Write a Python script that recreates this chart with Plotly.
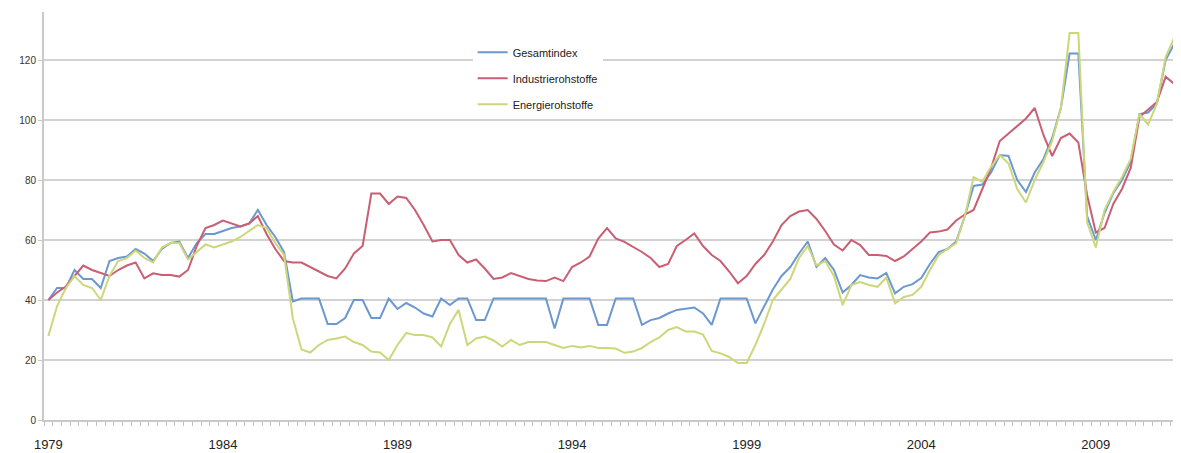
import plotly.graph_objects as go

# Quarterly data, 1979 Q1 onward
start_year = 1979
gesamtindex = [
    40, 44, 44, 50, 47, 47, 44, 53, 54, 54.5, 57, 55.5, 53, 57, 59, 59.5, 54, 59, 62, 62,
    63, 64, 64.5, 65.5, 70, 65, 61, 56, 39.5, 40.5, 40.5, 40.5, 32, 32, 34, 40, 40, 34, 34, 40.5,
    37, 39, 37.5, 35.5, 34.5, 40.5, 38.3, 40.5, 40.5, 33.3, 33.3, 40.5, 40.5, 40.5, 40.5, 40.5, 40.5, 40.5, 30.5, 40.5,
    40.5, 40.5, 40.5, 31.7, 31.7, 40.5, 40.5, 40.5, 31.7, 33.3, 34, 35.5, 36.7, 37.2, 37.5, 35.5, 31.7, 40.5, 40.5, 40.5,
    40.5, 32.2, 37.8, 43.5, 48, 51, 55.5, 59.5, 51, 54, 50, 42.5, 45, 48.3, 47.5, 47.2, 49, 42.2, 44.4, 45.3,
    47.3, 52, 56, 57, 59.5, 68, 78, 78.5, 82.5, 88.3, 88, 80, 76, 82.5, 87, 94, 104, 122.2, 122.2, 68,
    60, 69, 75.6, 80, 86, 102, 102.5, 105.5, 120, 125.5, 120.5,
]
industrierohstoffe = [
    40, 42.5, 44.5, 48, 51.5, 50, 49, 48, 50, 51.5, 52.5, 47.2, 48.9, 48.3, 48.3, 47.8, 50, 58, 64, 65,
    66.5, 65.5, 64.5, 65.5, 68, 62, 57, 53, 52.5, 52.5, 51, 49.5, 48, 47.2, 50.5, 55.5, 58, 75.5, 75.5, 72,
    74.5, 74, 70, 65, 59.5, 60, 60, 55, 52.5, 53.5, 50.5, 47, 47.5, 49, 48, 47, 46.5, 46.3, 47.5, 46.3,
    51, 52.5, 54.5, 60.5, 64, 60.5, 59.4, 57.8, 56, 54, 51, 52, 58, 60, 62.2, 58, 55, 53, 49.5, 45.6,
    48, 52, 55, 59.5, 65, 68, 69.5, 70, 67, 63, 58.5, 56.5, 60, 58.3, 55, 55, 54.7, 53, 54.5, 57,
    59.5, 62.5, 62.8, 63.5, 66.5, 68.5, 70, 77, 84, 93, 95.5, 98, 100.5, 104, 95, 88, 94, 95.5, 92.5, 75,
    62.5, 64, 72, 77, 84, 101, 103.5, 106, 114.4, 112, 109,
]
energierohstoffe = [
    28, 38, 44, 48, 45, 44, 40, 48, 53, 54, 56.5, 54, 52.5, 57.5, 59, 59, 53.5, 56, 58.5, 57.5,
    58.5, 59.5, 61, 63, 65, 64, 59, 55, 34, 23.5, 22.5, 25, 26.7, 27.2, 27.8, 26, 25, 22.8, 22.5, 20,
    25, 29, 28.3, 28.3, 27.5, 24.5, 32, 36.7, 25, 27.2, 27.8, 26.5, 24.5, 26.7, 25, 26, 26, 26, 25, 24,
    24.7, 24.2, 24.7, 24, 24, 23.8, 22.4, 22.8, 24, 26, 27.5, 30, 31, 29.5, 29.5, 28.5, 23, 22.2, 21, 19,
    19, 25, 32, 40, 43.5, 47, 54, 58, 51.5, 53, 48, 38.3, 45, 46, 45, 44.4, 47.5, 38.9, 41, 41.7,
    44.4, 50, 55, 57, 59, 68, 81, 79.4, 84.5, 88.3, 85.5, 77, 72.5, 80, 86, 93, 104, 129, 129, 66,
    57.5, 70, 76, 81, 87, 102, 98.5, 105.5, 121, 127.5, 123,
]
label_years = [1979, 1984, 1989, 1994, 1999, 2004, 2009]
y_ticks = [0, 20, 40, 60, 80, 100, 120]

quarters = [start_year + i / 4 for i in range(len(gesamtindex))]

series = [
    ("Gesamtindex", gesamtindex, "#6b98d0"),
    ("Industrierohstoffe", industrierohstoffe, "#c95f73"),
    ("Energierohstoffe", energierohstoffe, "#cdd77a"),
]

fig = go.Figure()
for k, (name, vals, col) in enumerate(series):
    fig.add_trace(go.Scatter(
        x=quarters, y=vals, mode="lines", name=name,
        line=dict(color=col, width=2),
        legendgroup=f"g{k}",
    ))

# The page body adds an 8px offset; size the figure to fill the remaining window.
fig.update_layout(
    width=1173, height=445,
    margin=dict(l=36, r=0, t=4, b=33, autoexpand=False),
    paper_bgcolor="white", plot_bgcolor="white",
    font=dict(family="Liberation Sans, Arial, sans-serif", color="#222"),
    showlegend=True,
    legend=dict(
        x=0.377, y=0.937, xanchor="left", yanchor="top",
        bgcolor="white", borderwidth=0,
        font=dict(size=11, color="#222"),
        itemwidth=30, tracegroupgap=7,
    ),
)

fig.update_xaxes(
    automargin=False,
    range=[1978.875, 2011.44],
    tickvals=label_years, ticktext=[str(y) for y in label_years],
    ticks="outside", ticklen=11, tickcolor="rgba(0,0,0,0)",
    tickfont=dict(size=13, color="#222"),
    showgrid=False, zeroline=False,
    showline=True, linecolor="#c9c9c9", linewidth=2,
    minor=dict(tick0=1978.875, dtick=0.25, ticks="outside", ticklen=4,
               tickcolor="#c0c0c0", tickwidth=1, showgrid=False),
)
fig.update_yaxes(
    automargin=False,
    range=[0, 136],
    tickvals=y_ticks,
    ticks="outside", ticklen=4, tickcolor="#c9c9c9",
    tickfont=dict(size=10, color="#333"),
    showgrid=True, gridcolor="#d2d2d2", gridwidth=1.5,
    zeroline=False,
    showline=True, linecolor="#c9c9c9", linewidth=2,
)

fig.write_html("out.html")
